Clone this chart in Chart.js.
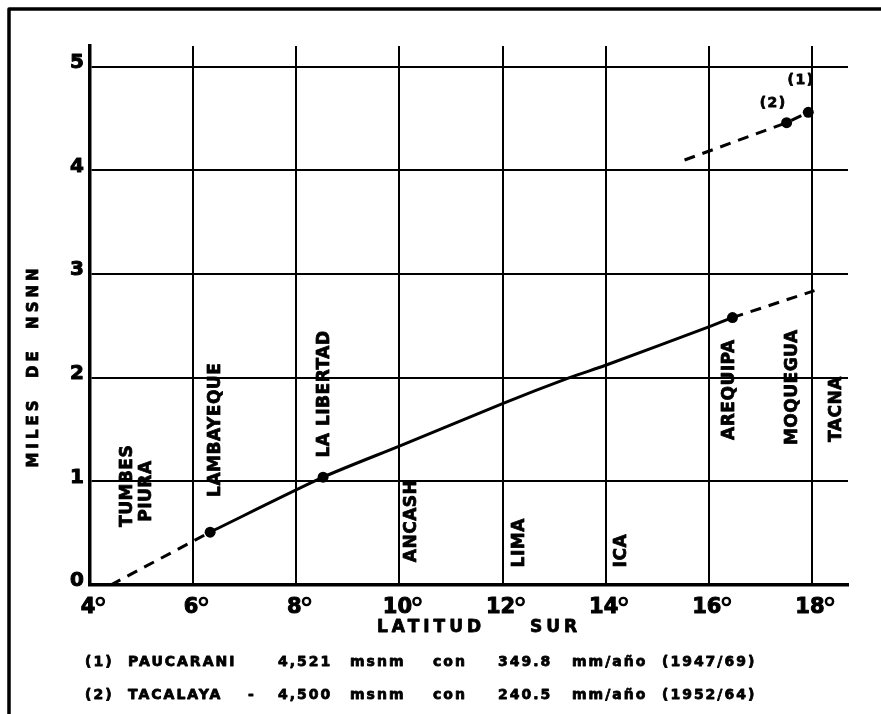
<!DOCTYPE html>
<html>
<head>
<meta charset="utf-8">
<script src="https://cdn.jsdelivr.net/npm/chart.js@4"></script>
<style>
  html, body { margin: 0; padding: 0; background: #fff; }
  #wrap { width: 881px; height: 714px; }
</style>
</head>
<body>
<div id="wrap"><canvas id="chart"></canvas></div>
<script>
// latitude (deg S) / altitude (thousands of m)
const lowerDashLat = [4.4, 6.33];
const lowerDashAlt = [0, 0.51];
const mainLat = [6.33, 8.52, 10, 12, 13.3, 14, 16, 16.46];
const mainAlt = [0.51, 1.04, 1.34, 1.75, 2.0, 2.12, 2.49, 2.58];
const tailDashLat = [16.46, 18.05];
const tailDashAlt = [2.58, 2.84];
const highDashLat = [15.53, 17.51, 17.93];
const highDashAlt = [4.10, 4.46, 4.56];
const stationLat = [6.33, 8.52, 16.46, 17.51, 17.93];
const stationAlt = [0.51, 1.04, 2.58, 4.46, 4.56];

const xTicks = [4, 6, 8, 10, 12, 14, 16, 18];
const yTicks = [0, 1, 2, 3, 4, 5];

const regionNames = ['TUMBES', 'PIURA', 'LAMBAYEQUE', 'LA LIBERTAD', 'ANCASH', 'LIMA', 'ICA', 'AREQUIPA', 'MOQUEGUA', 'TACNA'];
const regionLat = [4.72, 5.09, 6.44, 8.55, 10.24, 12.33, 14.31, 16.40, 17.62, 18.48];
const regionBaseAlt = [0.56, 0.61, 0.85, 1.23, 0.22, 0.17, 0.17, 1.40, 1.35, 1.38];

const stationTags = ['(1)', '(2)'];
const tagLat = [17.79, 17.25];
const tagAlt = [4.87, 4.65];

const footRow1 = ['(1)', 'PAUCARANI', '4,521', 'msnm', 'con', '349.8', 'mm/año', '(1947/69)'];
const footRow2 = ['(2)', 'TACALAYA', '-', '4,500', 'msnm', 'con', '240.5', 'mm/año', '(1952/64)'];
const footX1 = [85, 128, 278, 350, 433, 498, 572, 662];
const footX2 = [85, 128, 248, 278, 350, 433, 498, 572, 662];

const pts = (xs, ys) => xs.map((x, i) => ({x: x, y: ys[i]}));
const FONT = '"DejaVu Sans", sans-serif';

// heavy lettering: fill plus a thin stroke
function heavy(ctx, text, x, y, w) {
    ctx.lineWidth = w || 0.8;
    ctx.fillText(text, x, y);
    ctx.strokeText(text, x, y);
}

function rotText(ctx, text, x, y, align) {
    ctx.save();
    ctx.translate(x, y);
    ctx.rotate(-Math.PI / 2);
    ctx.textAlign = align;
    ctx.textBaseline = 'middle';
    heavy(ctx, text, 0, 0);
    ctx.restore();
}

const decor = {
    id: 'decor',
    afterDraw(chart) {
        const ctx = chart.ctx;
        const xs = chart.scales.x, ys = chart.scales.y;
        ctx.save();
        ctx.fillStyle = '#000';
        ctx.strokeStyle = '#000';
        ctx.lineJoin = 'round';

        // frame (top + left only)
        ctx.lineWidth = 3.5;
        ctx.beginPath();
        ctx.moveTo(881, 9); ctx.lineTo(9, 9); ctx.lineTo(9, 714);
        ctx.stroke();

        // y tick labels
        ctx.font = 'bold 20px ' + FONT;
        ctx.textAlign = 'right';
        ctx.textBaseline = 'middle';
        yTicks.forEach(v => heavy(ctx, String(v), 84, ys.getPixelForValue(v) - 4, 1));

        // x tick labels with degree ring
        ctx.font = 'bold 21px ' + FONT;
        ctx.textAlign = 'left';
        ctx.textBaseline = 'alphabetic';
        xTicks.forEach(v => {
            const s = String(v);
            const w = ctx.measureText(s).width;
            const total = w + 10;
            const x0 = xs.getPixelForValue(v) + 3 - total / 2;
            heavy(ctx, s, x0, 613, 1);
            ctx.lineWidth = 2.4;
            ctx.beginPath();
            ctx.arc(x0 + w + 5, 601.5, 3.6, 0, Math.PI * 2);
            ctx.stroke();
        });

        // axis titles
        ctx.font = 'bold 17px ' + FONT;
        ctx.letterSpacing = '4px';
        ctx.textBaseline = 'middle';
        ctx.textAlign = 'left';
        heavy(ctx, 'LATITUD', 377, 628);
        heavy(ctx, 'SUR', 530, 628);
        ctx.font = 'bold 15px ' + FONT;
        ctx.letterSpacing = '4px';
        rotText(ctx, 'MILES  DE  NSNN', 34, 366, 'center');

        // region names, rotated, anchored on the scales
        ctx.font = 'bold 17px ' + FONT;
        ctx.letterSpacing = '0.5px';
        regionNames.forEach((n, i) => {
            rotText(ctx, n, xs.getPixelForValue(regionLat[i]), ys.getPixelForValue(regionBaseAlt[i]), 'left');
        });

        // station tags
        ctx.font = 'bold 14px ' + FONT;
        ctx.letterSpacing = '1.5px';
        ctx.textAlign = 'center';
        ctx.textBaseline = 'middle';
        stationTags.forEach((t, i) => {
            heavy(ctx, t, xs.getPixelForValue(tagLat[i]), ys.getPixelForValue(tagAlt[i]));
        });

        // footnotes
        ctx.font = 'bold 14px ' + FONT;
        ctx.letterSpacing = '2px';
        ctx.textAlign = 'left';
        footRow1.forEach((t, i) => heavy(ctx, t, footX1[i], 662));
        footRow2.forEach((t, i) => heavy(ctx, t, footX2[i], 695));
        ctx.restore();
    }
};

const dashed = {borderColor: '#000', borderWidth: 3, borderDash: [11, 8], pointRadius: 0, fill: false};

var ctx = document.getElementById('chart').getContext('2d');
var chart = new Chart(ctx, {
    type: 'line',
    data: {
        datasets: [
            Object.assign({data: pts(lowerDashLat, lowerDashAlt)}, dashed),
            {data: pts(mainLat, mainAlt), borderColor: '#000', borderWidth: 3, pointRadius: 0, tension: 0.25, fill: false},
            Object.assign({data: pts(tailDashLat, tailDashAlt)}, dashed),
            Object.assign({data: pts(highDashLat, highDashAlt)}, dashed),
            {type: 'scatter', data: pts(stationLat, stationAlt), pointRadius: 5.5, pointBackgroundColor: '#000', pointBorderColor: '#000', borderWidth: 0}
        ]
    },
    options: {
        responsive: true,
        maintainAspectRatio: false,
        animation: false,
        layout: {padding: {top: 46, right: 33, left: 0, bottom: 0}},
        plugins: {legend: {display: false}, tooltip: {enabled: false}},
        scales: {
            x: {
                type: 'linear', min: 4, max: 18.7,
                ticks: {display: false, stepSize: 2, includeBounds: false},
                grid: {color: '#000', lineWidth: 2, drawTicks: false},
                border: {display: true, color: '#000', width: 3.5},
                afterFit: s => { s.height = 129; }
            },
            y: {
                type: 'linear', min: 0, max: 5.2,
                ticks: {display: false, stepSize: 1, includeBounds: false},
                grid: {color: '#000', lineWidth: 2, drawTicks: false},
                border: {display: true, color: '#000', width: 3.5},
                afterFit: s => { s.width = 90; }
            }
        }
    },
    plugins: [decor]
});
</script>
</body>
</html>
